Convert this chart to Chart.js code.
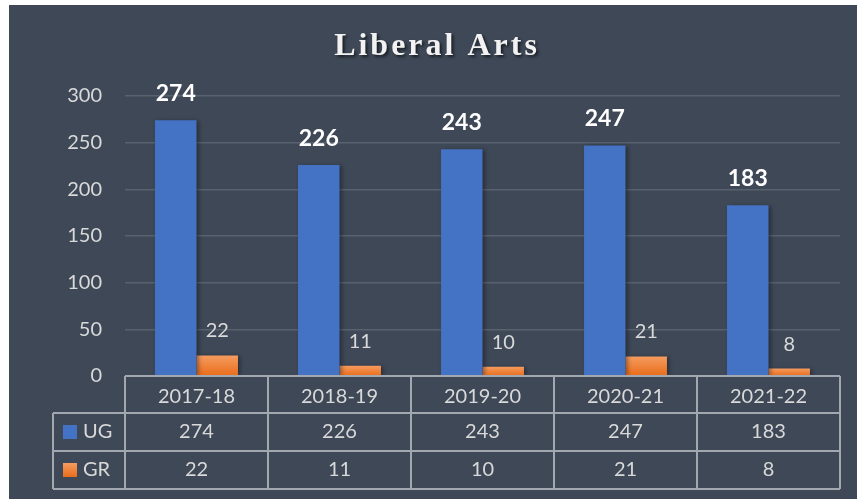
<!DOCTYPE html>
<html>
<head>
<meta charset="utf-8">
<script src="https://cdn.jsdelivr.net/npm/chart.js@4.4.1/dist/chart.umd.min.js"></script>
<style>
    html, body { margin: 0; padding: 0; background: #ffffff; }
    #wrap {
        position: absolute;
        left: 9px;
        top: 5px;
        width: 848px;
        height: 494px;
        background: #3e4857;
    }
</style>
</head>
<body>
<div id="wrap"><canvas id="chart"></canvas></div>
<script>
// 学年ごとの人数
const years = ['2017-18', '2018-19', '2019-20', '2020-21', '2021-22'];
const ugCounts = [274, 226, 243, 247, 183];
const grCounts = [22, 11, 10, 21, 8];
const seriesNames = ['UG', 'GR'];
const chartTitle = 'Liberal Arts';

const TEXT = '#d9d9d9';
const LINE = '#a3a8b0';
const BLUE = '#4472c4';
const ORANGE = '#ed7d31';
const ROW_H = 38;

function orangeGradient(ctx, top, base) {
    const g = ctx.createLinearGradient(0, top, 0, base);
    g.addColorStop(0, '#f59c60');
    g.addColorStop(1, '#e96c1a');
    return g;
}

// GR の棒は上が明るいグラデーション
function orangeFill(context) {
    const chart = context.chart;
    const y = chart.scales.y;
    if (!y || context.raw === undefined) return ORANGE;
    const top = y.getPixelForValue(context.raw);
    const base = y.getPixelForValue(0);
    if (!isFinite(top) || !isFinite(base) || top === base) return ORANGE;
    return orangeGradient(chart.ctx, top, base);
}

// タイトル（字間あり・影付き）
const titlePlugin = {
    id: 'spacedTitle',
    afterDraw(chart) {
        const ctx = chart.ctx;
        ctx.save();
        ctx.font = 'bold 32px "Liberation Serif"';
        ctx.letterSpacing = '3px';
        ctx.textAlign = 'center';
        ctx.textBaseline = 'alphabetic';
        ctx.shadowColor = 'rgba(0, 0, 0, 0.6)';
        ctx.shadowOffsetX = 2;
        ctx.shadowOffsetY = 2;
        ctx.shadowBlur = 3;
        ctx.fillStyle = '#f2f2f2';
        ctx.fillText(chartTitle, chart.width / 2 + 4, 50);
        ctx.restore();
    }
};

// 棒の影
const shadowPlugin = {
    id: 'barShadow',
    beforeDatasetDraw(chart) {
        const ctx = chart.ctx;
        ctx.save();
        ctx.shadowColor = 'rgba(0, 0, 0, 0.35)';
        ctx.shadowOffsetX = 2;
        ctx.shadowOffsetY = 1;
        ctx.shadowBlur = 4;
    },
    afterDatasetDraw(chart) {
        chart.ctx.restore();
    }
};

// 棒の上の数値
const valueLabels = {
    id: 'valueLabels',
    afterDatasetsDraw(chart) {
        const ctx = chart.ctx;
        ctx.save();
        ctx.textAlign = 'center';
        ctx.textBaseline = 'alphabetic';
        chart.data.datasets.forEach((ds, di) => {
            const meta = chart.getDatasetMeta(di);
            ctx.font = di === 0 ? 'bold 23px Lato' : '20px Lato';
            ctx.fillStyle = di === 0 ? '#ffffff' : TEXT;
            meta.data.forEach((bar, i) => {
                ctx.fillText(String(ds.data[i]), bar.x, bar.y - (di === 0 ? 19 : 18));
            });
        });
        ctx.restore();
    }
};

// グラフ下のデータテーブル
const dataTable = {
    id: 'dataTable',
    afterDraw(chart) {
        const ctx = chart.ctx;
        const xs = chart.scales.x;
        const area = chart.chartArea;
        const n = years.length;
        const step = (xs.right - xs.left) / n;
        const row1 = xs.bottom;
        const row2 = row1 + ROW_H;
        const bottom = row2 + ROW_H;
        const legendLeft = 44;

        ctx.save();
        ctx.strokeStyle = LINE;
        ctx.lineWidth = 2;
        ctx.beginPath();
        // 横線
        ctx.moveTo(xs.left, area.bottom); ctx.lineTo(xs.right, area.bottom);
        [row1, row2, bottom].forEach(y => {
            ctx.moveTo(legendLeft, y); ctx.lineTo(xs.right, y);
        });
        // 縦線
        for (let i = 0; i <= n; i++) {
            const x = xs.left + step * i;
            ctx.moveTo(x, area.bottom); ctx.lineTo(x, bottom);
        }
        ctx.moveTo(legendLeft, row1); ctx.lineTo(legendLeft, bottom);
        ctx.stroke();

        ctx.font = '20px Lato';
        ctx.textBaseline = 'middle';
        const rows = [ugCounts, grCounts];
        rows.forEach((vals, r) => {
            const cy = row1 + ROW_H * r + ROW_H / 2;
            ctx.fillStyle = TEXT;
            ctx.textAlign = 'center';
            vals.forEach((v, i) => {
                ctx.fillText(String(v), xs.getPixelForValue(i), cy);
            });
            // 凡例
            const box = 14;
            ctx.fillStyle = r === 0 ? BLUE : orangeGradient(ctx, cy - box / 2, cy + box / 2);
            ctx.fillRect(54, cy - box / 2, box, box);
            ctx.fillStyle = TEXT;
            ctx.textAlign = 'left';
            ctx.fillText(seriesNames[r], 74, cy);
        });
        ctx.restore();
    }
};

const chart = new Chart(document.getElementById('chart'), {
    type: 'bar',
    data: {
        labels: years,
        datasets: [
            {
                label: seriesNames[0],
                data: ugCounts,
                backgroundColor: BLUE,
                categoryPercentage: 0.58,
                barPercentage: 1.0
            },
            {
                label: seriesNames[1],
                data: grCounts,
                backgroundColor: orangeFill,
                categoryPercentage: 0.58,
                barPercentage: 1.0
            }
        ]
    },
    options: {
        responsive: true,
        maintainAspectRatio: false,
        animation: false,
        layout: {
            padding: { top: 91, left: 56, right: 17, bottom: ROW_H * 2 + 10 }
        },
        plugins: {
            legend: { display: false },
            title: { display: false },
            tooltip: { enabled: false }
        },
        scales: {
            x: {
                grid: { display: false },
                border: { display: false },
                ticks: {
                    color: TEXT,
                    font: { family: 'Lato', size: 20 },
                    padding: 1,
                    maxRotation: 0
                },
                afterFit: (scale) => { scale.height = 37; }
            },
            y: {
                min: 0,
                max: 300,
                border: { display: false },
                grid: {
                    color: '#58626f',
                    lineWidth: 1.5,
                    drawTicks: false
                },
                ticks: {
                    stepSize: 50,
                    color: TEXT,
                    font: { family: 'Lato', size: 20 },
                    padding: 23
                },
                afterFit: (scale) => { scale.width = 60; }
            }
        }
    },
    plugins: [shadowPlugin, valueLabels, dataTable, titlePlugin]
});
</script>
</body>
</html>
